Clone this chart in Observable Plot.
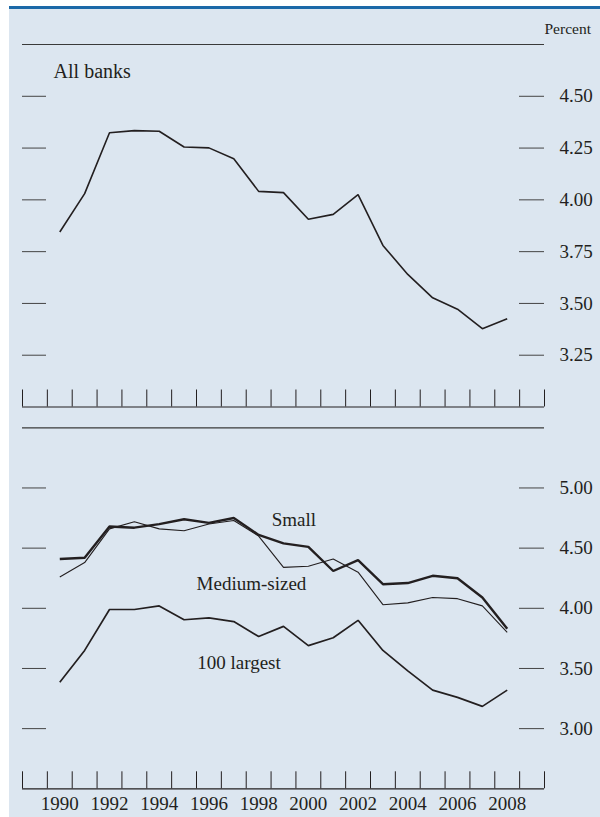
<!DOCTYPE html>
<html><head><meta charset="utf-8">
<script src="https://cdn.jsdelivr.net/npm/d3@7"></script>
<script src="https://cdn.jsdelivr.net/npm/@observablehq/plot@0.6"></script>
<style>
html,body{margin:0;padding:0;background:#fff;}
#wrap{position:relative;width:600px;height:817px;overflow:hidden;background:#fff;}
#panel{position:absolute;left:9px;top:6px;right:0;bottom:0;background:#dce6f0;border-top:3px solid #1b69a8;}
#top,#bottom{position:absolute;left:0;}
#top{top:0px}
#bottom{top:417px}
</style></head><body>
<div id="wrap"><div id="panel"></div><div id="top"></div><div id="bottom"></div></div>
<script>
// ---- data ----
const years = [1990,1991,1992,1993,1994,1995,1996,1997,1998,1999,2000,2001,2002,2003,2004,2005,2006,2007,2008];
const allBanks = [3.845,4.03,4.324,4.334,4.331,4.255,4.251,4.198,4.041,4.035,3.906,3.930,4.025,3.780,3.640,3.527,3.472,3.378,3.426];
const small    = [4.41,4.42,4.68,4.67,4.70,4.74,4.71,4.75,4.61,4.54,4.51,4.31,4.40,4.20,4.21,4.27,4.25,4.09,3.83];
const medium   = [4.26,4.38,4.66,4.72,4.66,4.645,4.70,4.73,4.60,4.34,4.35,4.41,4.30,4.03,4.045,4.09,4.08,4.02,3.80];
const largest  = [3.385,3.65,3.99,3.99,4.02,3.905,3.92,3.89,3.765,3.85,3.69,3.755,3.90,3.65,3.48,3.32,3.26,3.185,3.32];
const topTicks = [3.25,3.50,3.75,4.00,4.25,4.50];
const bottomTicks = [3.00,3.50,4.00,4.50,5.00];
const yearLabels = [1990,1992,1994,1996,1998,2000,2002,2004,2006,2008];

// ---- layout ----
const X0 = 1988.5, X1 = 2009.5;
const xRange = [22, 544];
const pxPerYear = (xRange[1]-xRange[0])/(X1-X0);
const boundaries = d3.range(X0, X1 + 0.01, 1);
const font = "Liberation Serif, 'Times New Roman', serif";
const ink = "#231f20";
const ruleInk = "#3a3a3a";
const fmt = d3.format(".2f");

function toRows(vals){ return years.map((y,i)=>({year:y, value:vals[i]})); }

function panel({height, yDomain, yRange, yTicks, top, base, series, texts}) {
  const pxPerUnit = (yRange[0]-yRange[1])/(yDomain[1]-yDomain[0]);
  const tickLen = 17/pxPerUnit;
  const marks = [
    Plot.ruleY([top], {x1: X0, x2: X1, stroke: ruleInk, strokeWidth: 1.2}),
    Plot.ruleY([base], {x1: X0, x2: X1, stroke: ink, strokeWidth: 1.2}),
    Plot.ruleX(boundaries, {x: d=>d, y1: base, y2: base + tickLen, stroke: ink, strokeWidth: 1}),
    Plot.ruleY(yTicks, {y: d=>d, x1: X0, x2: X0 + 24/pxPerYear, stroke: "#444", strokeWidth: 1}),
    Plot.ruleY(yTicks, {y: d=>d, x1: X1 - 25/pxPerYear, x2: X1, stroke: "#444", strokeWidth: 1}),
    Plot.text(yTicks, {x: X1, y: d=>d, text: d=>fmt(d), dx: 15, textAnchor: "start", fontSize: 19, fill: ink}),
    ...series.map(s => Plot.line(toRows(s.values), {x: "year", y: "value", stroke: ink, strokeWidth: s.w, strokeLinejoin: "miter", strokeLinecap: "butt"})),
    ...texts.map(t => Plot.text([t], {x: "x", y: "y", text: "text", textAnchor: t.anchor || "middle", fontSize: t.size || 19, fill: ink}))
  ];
  return Plot.plot({
    width: 600, height,
    marginLeft: 0, marginRight: 0, marginTop: 0, marginBottom: 0,
    style: {background: "transparent", overflow: "visible", fontFamily: font},
    x: {type: "linear", domain: [X0, X1], range: xRange, axis: null},
    y: {type: "linear", domain: yDomain, range: yRange, axis: null},
    marks
  });
}

document.getElementById("top").append(panel({
  height: 417,
  yDomain: [3.0, 4.75], yRange: [406.5, 44],
  yTicks: topTicks, top: 4.75, base: 3.0,
  series: [{values: allBanks, w: 1.6}],
  texts: [
    {x: X1, y: 4.825, text: "Percent", anchor: "start", size: 15.5},
    {x: 1989.75, y: 4.617, text: "All banks", anchor: "start", size: 20}
  ]
}));

document.getElementById("bottom").append(panel({
  height: 400,
  yDomain: [2.5, 5.5], yRange: [371.3, 10.3],
  yTicks: bottomTicks, top: 5.5, base: 2.5,
  series: [{values: medium, w: 1.1}, {values: largest, w: 1.7}, {values: small, w: 2.4}],
  texts: [
    {x: 1999.42, y: 4.738, text: "Small"},
    {x: 1997.71, y: 4.206, text: "Medium-sized"},
    {x: 1997.21, y: 3.544, text: "100 largest"},
    ...yearLabels.map(y => ({x: y, y: 2.375, text: String(y)}))
  ]
}));
</script>
</body></html>
